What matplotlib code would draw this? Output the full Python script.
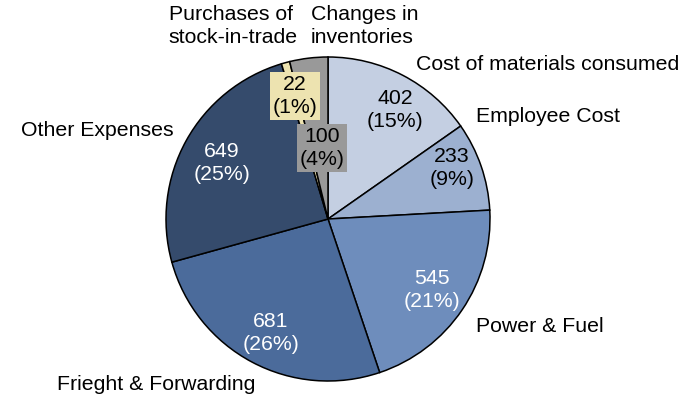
import matplotlib
matplotlib.use("Agg")
import matplotlib.pyplot as plt

categories = ["Cost of materials consumed", "Employee Cost", "Power & Fuel",
              "Frieght & Forwarding", "Other Expenses",
              "Purchases of\nstock-in-trade", "Changes in\ninventories"]
values = [402, 233, 545, 681, 649, 22, 100]
percents = [15, 9, 21, 26, 25, 1, 4]
colors = ["#c4cfe2", "#9cb0d0", "#6e8dbc", "#4b6b9b", "#354b6c", "#ede3b0", "#999999"]
value_text_colors = ["black", "black", "white", "white", "white", "black", "black"]

W, H = 699, 401
fig = plt.figure(figsize=(W / 100, H / 100), dpi=100)
ax = fig.add_axes([0, 0, 1, 1])
plt.rcParams['font.family'] = ['Liberation Sans', 'DejaVu Sans']

cx, cy, r = 328, H - 219, 162
wedges, _ = ax.pie(values, colors=colors, startangle=90, counterclock=False,
                   center=(cx, cy), radius=r,
                   wedgeprops=dict(edgecolor="black", linewidth=1.1))
ax.set_xlim(0, W)
ax.set_ylim(0, H)
ax.set_aspect("equal")
ax.axis("off")

fs = 15.3
ls = 1.32
# value labels (pixel positions, y from top)
val_pos = [(395, 110), (452, 168), (432, 290), (271, 333), (222, 163), (295, 96), (322, 148)]
for i, (px, py) in enumerate(val_pos):
    kw = {}
    if i >= 5:
        kw["bbox"] = dict(boxstyle="square,pad=0.12", facecolor=colors[i], edgecolor="none")
    ax.text(px, H - py, f"{values[i]}\n({percents[i]}%)", ha="center", va="center",
            fontsize=fs, color=value_text_colors[i], linespacing=ls, **kw)

# category labels
cat_pos = [(416, 64, "left"), (476, 117, "left"), (476, 326, "left"),
           (57, 385, "left"), (21, 131, "left"), (298, 26, "right"), (311, 26, "left")]
for i, (px, py, ha) in enumerate(cat_pos):
    ax.text(px, H - py, categories[i], ha=ha, va="center", fontsize=fs,
            color="black", linespacing=ls, multialignment="left")

fig.savefig("out.png", dpi=100)
